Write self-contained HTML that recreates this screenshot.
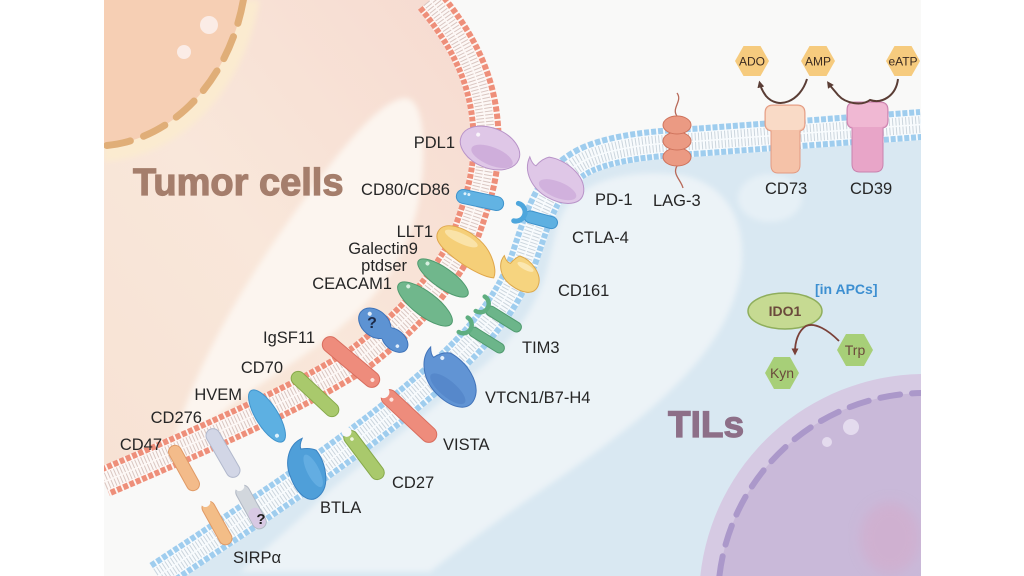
<!DOCTYPE html>
<html><head><meta charset="utf-8"><style>
html,body{margin:0;padding:0;background:#fff;width:1024px;height:576px;overflow:hidden;}
svg{display:block;}
text{font-family:"Liberation Sans",Arial,sans-serif;}
</style></head><body>
<svg width="1024" height="576" viewBox="0 0 1024 576" xmlns="http://www.w3.org/2000/svg">
<defs>
<clipPath id="fig"><rect x="104" y="0" width="817" height="576"/></clipPath>
<clipPath id="tilclip"><path d="M158,576 C255,512 350,450 420,390 C480,340 510,300 525,255 C540,210 550,175 590,158 C620,146 660,143 700,141 L921,124.5 L921,576 Z"/></clipPath>
<filter id="soft" x="-20%" y="-20%" width="140%" height="140%"><feGaussianBlur stdDeviation="3"/></filter>
<filter id="soft6" x="-20%" y="-20%" width="140%" height="140%"><feGaussianBlur stdDeviation="6"/></filter>
<linearGradient id="tumg" x1="0" y1="1" x2="1" y2="0">
<stop offset="0" stop-color="#f7e2d4"/><stop offset="0.45" stop-color="#f9e7da"/><stop offset="1" stop-color="#f6dad0"/>
</linearGradient>
<marker id="ah" viewBox="0 0 10 10" refX="5" refY="5" markerWidth="7" markerHeight="7" orient="auto" markerUnits="userSpaceOnUse">
<path d="M0,0 L10,5 L0,10 Z" fill="#5a3d35"/></marker>
<marker id="ah2" viewBox="0 0 10 10" refX="5" refY="5" markerWidth="7" markerHeight="7" orient="auto" markerUnits="userSpaceOnUse">
<path d="M0,0 L10,5 L0,10 Z" fill="#7a4038"/></marker>
</defs>

<rect width="1024" height="576" fill="#fff"/>
<g clip-path="url(#fig)">
<rect x="104" y="0" width="817" height="576" fill="#f9f9f8"/>

<!-- TIL cytoplasm -->
<path d="M158,576 C255,512 350,450 420,390 C480,340 510,300 525,255 C540,210 550,175 590,158 C620,146 660,143 700,141 L921,124.5 L921,576 Z" fill="#d9e8f2"/>
<g clip-path="url(#tilclip)">
<path d="M562,215 C575,185 620,168 680,175 C740,185 760,250 725,320 C690,390 600,450 520,505 C480,533 455,552 430,572 L240,572 C270,545 305,515 330,490 C380,450 450,395 490,360 C520,330 540,300 548,265 C553,245 556,228 562,215 Z" fill="#ecf3f7" filter="url(#soft)"/>
<ellipse cx="770" cy="198" rx="32" ry="24" fill="#e6f0f6" filter="url(#soft)"/>
</g>

<!-- purple nucleus -->
<path d="M700.3,576 A226 226 0 0 1 921,374 L921,576 Z" fill="#d6cae3"/>
<path d="M719.4,576 A207 207 0 0 1 921,393 L921,576 Z" fill="#c9b9d9"/>
<ellipse cx="890" cy="538" rx="30" ry="36" fill="#d6a8c8" opacity="0.5" filter="url(#soft6)"/>
<path d="M719.4,576 A207 207 0 0 1 921,393" fill="none" stroke="#ab98ca" stroke-width="6" stroke-dasharray="20 12" stroke-linecap="round"/>
<circle cx="851" cy="427" r="8" fill="#e4dbee"/>
<circle cx="827" cy="442" r="5" fill="#e4dbee"/>

<!-- tumor cytoplasm -->
<path d="M430,0 C457,33 480,70 485,120 C490,170 478,200 462,245 C440,285 410,320 360,358 C320,385 250,420 104,482 L104,0 Z" fill="url(#tumg)"/>
<path d="M400,99 C414,94 422,110 423,140 C425,190 415,230 395,265 C370,310 320,345 270,378 C230,405 195,430 168,470 C175,430 190,390 210,350 C240,290 280,230 330,165 C355,133 380,105 400,99 Z" fill="#fcf5ef" filter="url(#soft)"/>

<!-- tumor nucleus -->
<path d="M104,0 L259.7,0 A168 202 0 0 1 104,161.7 Z" fill="#fbebd0" filter="url(#soft)"/>
<path d="M104,0 L243.4,0 A152 186 0 0 1 104,145.7 Z" fill="#f6cfb4"/>
<path d="M243.4,0 A152 186 0 0 1 104,145.7" fill="none" stroke="#e0ae78" stroke-width="7" stroke-dasharray="24 14" stroke-linecap="round"/>
<circle cx="209" cy="25" r="9" fill="#fbece6"/>
<circle cx="184" cy="52" r="7" fill="#fbece6"/>

<!-- red membrane -->
<g fill="none">
<path d="M430,0 C457,33 480,70 485,120 C490,170 478,200 462,245 C440,285 410,320 360,358 C320,385 250,420 104,482" stroke="#fdf6f3" stroke-width="31"/>
<path d="M430,0 C457,33 480,70 485,120 C490,170 478,200 462,245 C440,285 410,320 360,358 C320,385 250,420 104,482" stroke="#ee8f7a" stroke-width="31" stroke-dasharray="5 1.8"/>
<path d="M430,0 C457,33 480,70 485,120 C490,170 478,200 462,245 C440,285 410,320 360,358 C320,385 250,420 104,482" stroke="#fdf8f6" stroke-width="19"/>
<path d="M430,0 C457,33 480,70 485,120 C490,170 478,200 462,245 C440,285 410,320 360,358 C320,385 250,420 104,482" stroke="#d9c6c1" stroke-width="17" stroke-dasharray="1 2.3"/>
<path d="M430,0 C457,33 480,70 485,120 C490,170 478,200 462,245 C440,285 410,320 360,358 C320,385 250,420 104,482" stroke="#fdf8f6" stroke-width="1.5"/>
</g>

<!-- blue membrane -->
<g fill="none">
<path d="M158,576 C255,512 350,450 420,390 C480,340 510,300 525,255 C540,210 550,175 590,158 C620,146 660,143 700,141 L921,124.5" stroke="#f6fafd" stroke-width="31"/>
<path d="M158,576 C255,512 350,450 420,390 C480,340 510,300 525,255 C540,210 550,175 590,158 C620,146 660,143 700,141 L921,124.5" stroke="#9fcdee" stroke-width="31" stroke-dasharray="5 1.8"/>
<path d="M158,576 C255,512 350,450 420,390 C480,340 510,300 525,255 C540,210 550,175 590,158 C620,146 660,143 700,141 L921,124.5" stroke="#f8fbfd" stroke-width="19"/>
<path d="M158,576 C255,512 350,450 420,390 C480,340 510,300 525,255 C540,210 550,175 590,158 C620,146 660,143 700,141 L921,124.5" stroke="#cbd5dd" stroke-width="17" stroke-dasharray="1 2.3"/>
<path d="M158,576 C255,512 350,450 420,390 C480,340 510,300 525,255 C540,210 550,175 590,158 C620,146 660,143 700,141 L921,124.5" stroke="#f8fbfd" stroke-width="1.5"/>
</g>

<!-- ===== proteins ===== -->
<!-- PDL1 -->
<g transform="translate(490,148) rotate(22)">
<ellipse rx="31" ry="20" fill="#dfc7e7" stroke="#b893c8" stroke-width="1"/>
<ellipse cx="5" cy="7" rx="22" ry="9" fill="#caa8d8" opacity="0.8"/>
<circle cx="-16" cy="-8" r="2" fill="#fff" opacity="0.8"/>
</g>
<!-- CD80/CD86 -->
<g transform="translate(480,200) rotate(12)">
<rect x="-24" y="-7" width="48" height="14" rx="7" fill="#62b3e3" stroke="#3f93cc" stroke-width="1"/>
<circle cx="-16" cy="-3" r="1.5" fill="#dff1fb"/><circle cx="-12" cy="-3" r="1.5" fill="#dff1fb"/>
</g>
<!-- PD-1 -->
<g transform="translate(555,180) rotate(22)">
<path d="M-32,-12 Q-27,-6 -23,-6 Q-20,-15 -14,-19 C2,-23 26,-16 31,0 C35,14 18,21 0,19 C-18,17 -33,4 -32,-12 Z" fill="#dfc7e7" stroke="#b893c8" stroke-width="1"/>
<ellipse cx="6" cy="8" rx="20" ry="8" fill="#caa8d8" opacity="0.7"/>
</g>
<!-- CTLA-4 -->
<g transform="translate(538,219) rotate(15)">
<rect x="-14" y="-6" width="34" height="12" rx="6" fill="#5eb0e1" stroke="#3f93cc" stroke-width="1"/>
<path d="M-23,-10 A8.5 8.5 0 0 1 -23,8" fill="none" stroke="#4ea6dc" stroke-width="5" stroke-linecap="round"/>
<line x1="-15" y1="-1" x2="-12" y2="0" stroke="#4ea6dc" stroke-width="5"/>
</g>
<!-- LLT1 -->
<g transform="translate(467,250) rotate(25)">
<path d="M-34,-4 C-34,-18 -10,-20 8,-14 C24,-9 36,6 36,14 C26,18 0,16 -18,10 C-30,6 -34,2 -34,-4 Z" fill="#f5cf78" stroke="#e0a64a" stroke-width="1"/>
<ellipse cx="-10" cy="-8" rx="18" ry="5" fill="#fbe7b4" opacity="0.8"/>
</g>
<!-- CD161 -->
<g transform="translate(520,273) rotate(28)">
<path d="M-22,-8 Q-17,-3 -13,-4 Q-11,-12 -8,-15 C4,-17 21,-9 22,3 C23,14 10,17 -2,15 C-16,13 -24,2 -22,-8 Z" fill="#f6d47f" stroke="#dca84c" stroke-width="1"/>
<ellipse cx="2" cy="-8" rx="9" ry="3" fill="#fcebbd" opacity="0.8"/>
</g>
<!-- Galectin9 / ptdser green -->
<g transform="translate(443,278) rotate(35)">
<ellipse rx="30" ry="10" fill="#70b78c" stroke="#4f9a6e" stroke-width="1"/>
<circle cx="-21" cy="-3" r="2" fill="#d8efe0"/>
</g>
<!-- CEACAM1 -->
<g transform="translate(425,304) rotate(37)">
<ellipse rx="33" ry="12" fill="#70b78c" stroke="#4f9a6e" stroke-width="1"/>
<circle cx="-24" cy="-4" r="2" fill="#d8efe0"/>
</g>
<!-- ? protein -->
<g transform="translate(384,331) rotate(40)">
<ellipse cx="-12" cy="0" rx="18" ry="13" fill="#5d93d3" stroke="#3d72b8" stroke-width="1"/>
<ellipse cx="14" cy="0" rx="15" ry="10" fill="#5d93d3" stroke="#3d72b8" stroke-width="1"/>
<rect x="-6" y="-7" width="14" height="14" fill="#5d93d3"/>
<circle cx="-22" cy="-4" r="2" fill="#e2eefa"/>
<circle cx="20" cy="3" r="1.8" fill="#e2eefa"/>
</g>
<text x="372" y="328" font-size="16" font-weight="bold" fill="#1c2a48" text-anchor="middle">?</text>
<!-- TIM3 upper -->
<g transform="translate(502,318) rotate(32)">
<rect x="-18" y="-5" width="40" height="10" rx="5" fill="#6cb58a" stroke="#4f9a6e" stroke-width="1"/>
<path d="M-26,-9 A8 8 0 0 1 -26,8" fill="none" stroke="#5fae80" stroke-width="4.5" stroke-linecap="round"/>
<line x1="-19" y1="0" x2="-16" y2="0" stroke="#5fae80" stroke-width="4.5"/>
</g>
<!-- TIM3 lower -->
<g transform="translate(485,339) rotate(32)">
<rect x="-18" y="-5" width="40" height="10" rx="5" fill="#6cb58a" stroke="#4f9a6e" stroke-width="1"/>
<path d="M-26,-9 A8 8 0 0 1 -26,8" fill="none" stroke="#5fae80" stroke-width="4.5" stroke-linecap="round"/>
<line x1="-19" y1="0" x2="-16" y2="0" stroke="#5fae80" stroke-width="4.5"/>
</g>
<!-- VTCN1 -->
<g transform="translate(449,378) rotate(40)">
<path d="M-34,-12 Q-29,-6 -25,-6 Q-22,-16 -15,-20 C2,-24 28,-17 33,0 C37,15 19,22 0,20 C-19,18 -35,4 -34,-12 Z" fill="#6194d4" stroke="#4173b9" stroke-width="1"/>
<ellipse cx="6" cy="9" rx="22" ry="8" fill="#4f80c4" opacity="0.6"/>
<circle cx="-18" cy="-11" r="2" fill="#e2eefa"/>
</g>
<!-- IgSF11 -->
<g transform="translate(351,362) rotate(40)">
<rect x="-35" y="-8" width="70" height="16" rx="8" fill="#ee8c7c" stroke="#d96d5e" stroke-width="1"/>
<circle cx="28" cy="0" r="2" fill="#fde3de"/>
</g>
<!-- VISTA -->
<g transform="translate(409,416) rotate(43)">
<rect x="-35" y="-8" width="70" height="16" rx="8" fill="#ee8c7c" stroke="#d96d5e" stroke-width="1"/>
<circle cx="-35" cy="0" r="6" fill="#f9f9f8"/>
<circle cx="-24" cy="0" r="2" fill="#fde3de"/>
</g>
<!-- CD70 -->
<g transform="translate(315,394) rotate(43)">
<rect x="-30" y="-7" width="60" height="14" rx="7" fill="#a9c96c" stroke="#86a94a" stroke-width="1"/>
</g>
<!-- CD27 -->
<g transform="translate(364,455) rotate(53)">
<rect x="-29" y="-7" width="58" height="14" rx="7" fill="#a9c96c" stroke="#86a94a" stroke-width="1"/>
<circle cx="-29" cy="0" r="5" fill="#f9f9f8"/>
<circle cx="-20" cy="0" r="1.8" fill="#eef6dd"/>
</g>
<!-- HVEM -->
<g transform="translate(267,416) rotate(58)">
<ellipse rx="30" ry="11" fill="#5db0e2" stroke="#3f93cc" stroke-width="1"/>
<circle cx="22" cy="2" r="2" fill="#dff1fb"/>
</g>
<!-- BTLA -->
<g transform="translate(306,470) rotate(63)">
<path d="M-30,-11 Q-25,-5 -21,-5 Q-18,-14 -13,-18 C2,-21 25,-15 29,0 C33,13 17,19 0,17 C-17,16 -31,4 -30,-11 Z" fill="#4f9fd9" stroke="#3a83c2" stroke-width="1"/>
<ellipse cx="4" cy="-6" rx="18" ry="6" fill="#6cb3e6" opacity="0.7"/>
</g>
<!-- CD276 -->
<g transform="translate(223,453) rotate(60)">
<rect x="-27" y="-7" width="54" height="14" rx="7" fill="#d2d6e6" stroke="#b1b8cc" stroke-width="1"/>
</g>
<!-- ? receptor -->
<g transform="translate(251,507) rotate(61)">
<rect x="-24" y="-7" width="48" height="14" rx="7" fill="#d2d7dd" stroke="#b1b8c4" stroke-width="1"/>
<rect x="2" y="-6.5" width="21" height="13" rx="6" fill="#d8c9e4"/>
<circle cx="-24" cy="0" r="5" fill="#f9f9f8"/>
</g>
<text x="261" y="524" font-size="15" font-weight="bold" fill="#1f1f1f" text-anchor="middle">?</text>
<!-- CD47 -->
<g transform="translate(184,468) rotate(61)">
<rect x="-25" y="-6.5" width="50" height="13" rx="6.5" fill="#f3bb8a" stroke="#e09a66" stroke-width="1"/>
</g>
<!-- SIRPa -->
<g transform="translate(217,523) rotate(61)">
<rect x="-24" y="-6.5" width="48" height="13" rx="6.5" fill="#f3bd87" stroke="#e09a66" stroke-width="1"/>
<circle cx="-24" cy="0" r="5" fill="#f9f9f8"/>
</g>

<!-- LAG-3 -->
<path d="M677,116 C671,108 683,101 677,93" fill="none" stroke="#b86a5a" stroke-width="1.3"/>
<path d="M677,166 C672,174 681,180 683,188" fill="none" stroke="#b86a5a" stroke-width="1.3"/>
<ellipse cx="677" cy="157" rx="14" ry="9" fill="#eb9a83" stroke="#cf735c" stroke-width="1"/>
<ellipse cx="677" cy="141" rx="14" ry="9" fill="#eb9a83" stroke="#cf735c" stroke-width="1"/>
<ellipse cx="677" cy="125" rx="14" ry="9" fill="#eb9a83" stroke="#cf735c" stroke-width="1"/>
<!-- CD73 -->
<path d="M773,105 H797 Q805,105 805,113 V124 Q805,130 800,131 V165 Q800,173 792,173 H778 Q771,173 771,165 V131 Q765,130 765,124 V113 Q765,105 773,105 Z" fill="#f5c2a8" stroke="#e39a82" stroke-width="1"/>
<path d="M773,106 H797 Q804,106 804,113 V124 Q804,129 798,130 H772 Q766,129 766,124 V113 Q766,106 773,106 Z" fill="#f9dac6"/>
<!-- CD39 -->
<path d="M855,102 H880 Q888,102 888,110 V121 Q888,127 883,128 V164 Q883,172 875,172 H860 Q852,172 852,164 V128 Q847,127 847,121 V110 Q847,102 855,102 Z" fill="#e8a5c8" stroke="#c982ae" stroke-width="1"/>
<path d="M855,103 H880 Q887,103 887,110 V121 Q887,126 881,127 H853 Q848,126 848,121 V110 Q848,103 855,103 Z" fill="#f0b8d3"/>

<!-- hexagons -->
<polygon points="735,61 743.5,46 760.5,46 769,61 760.5,76 743.5,76" fill="#f6cb7e"/>
<polygon points="801,61 809.5,46 826.5,46 835,61 826.5,76 809.5,76" fill="#f6cb7e"/>
<polygon points="886,61 894.5,46 911.5,46 920,61 911.5,76 894.5,76" fill="#f6cb7e"/>
<text x="752" y="65.5" font-size="12" fill="#3a2a20" text-anchor="middle">ADO</text>
<text x="818" y="65.5" font-size="12" fill="#3a2a20" text-anchor="middle">AMP</text>
<text x="903" y="65.5" font-size="12" fill="#3a2a20" text-anchor="middle">eATP</text>
<path d="M807,79 C800,102 778,110 766,96 C763,92 761,88 760,84" fill="none" stroke="#5a3d35" stroke-width="2" marker-end="url(#ah)"/>
<path d="M898,79 C896,96 882,104 870,100 C862,106 846,104 838,95 C834,90 831,87 829,84" fill="none" stroke="#5a3d35" stroke-width="2" marker-end="url(#ah)"/>

<!-- IDO1 -->
<ellipse cx="785" cy="311" rx="37" ry="18" fill="#c6da92" stroke="#8fae5c" stroke-width="1.5"/>
<text x="785" y="316" font-size="14" font-weight="bold" fill="#6b4a3c" text-anchor="middle">IDO1</text>
<text x="815" y="294" font-size="14" font-weight="bold" fill="#3d8fd1">[in APCs]</text>
<polygon points="837,350 846,334 864,334 873,350 864,366 846,366" fill="#a7cf78"/>
<polygon points="765,373 774,357 790,357 799,373 790,389 774,389" fill="#a7cf78"/>
<text x="855" y="355" font-size="14" fill="#6b4a3c" text-anchor="middle">Trp</text>
<text x="782" y="378" font-size="14" fill="#6b4a3c" text-anchor="middle">Kyn</text>
<path d="M839,341 C828,330 815,322 806,326 C798,331 795,342 795,352" fill="none" stroke="#7a4038" stroke-width="1.8" marker-end="url(#ah2)"/>

<!-- big titles -->
<text x="133" y="195" font-size="38" font-weight="bold" fill="#a57e6c" stroke="#a57e6c" stroke-width="1.2">Tumor cells</text>
<text x="668" y="437" font-size="37" font-weight="bold" fill="#8d6f88" stroke="#8d6f88" stroke-width="1.2">TILs</text>

<!-- labels -->
<g font-size="16.5" fill="#262626">
<text x="455" y="148" text-anchor="end">PDL1</text>
<text x="450" y="195" text-anchor="end">CD80/CD86</text>
<text x="433" y="237" text-anchor="end">LLT1</text>
<text x="418" y="254" text-anchor="end">Galectin9</text>
<text x="407" y="271" text-anchor="end">ptdser</text>
<text x="392" y="289" text-anchor="end">CEACAM1</text>
<text x="315" y="343" text-anchor="end">IgSF11</text>
<text x="283" y="373" text-anchor="end">CD70</text>
<text x="242" y="400" text-anchor="end">HVEM</text>
<text x="202" y="423" text-anchor="end">CD276</text>
<text x="162" y="450" text-anchor="end">CD47</text>
<text x="595" y="205">PD-1</text>
<text x="653" y="206">LAG-3</text>
<text x="765" y="194">CD73</text>
<text x="850" y="194">CD39</text>
<text x="572" y="243">CTLA-4</text>
<text x="558" y="296">CD161</text>
<text x="522" y="353">TIM3</text>
<text x="485" y="403">VTCN1/B7-H4</text>
<text x="443" y="450">VISTA</text>
<text x="392" y="488">CD27</text>
<text x="320" y="513">BTLA</text>
<text x="233" y="563">SIRPα</text>
</g>
</g>
</svg>
</body></html>
